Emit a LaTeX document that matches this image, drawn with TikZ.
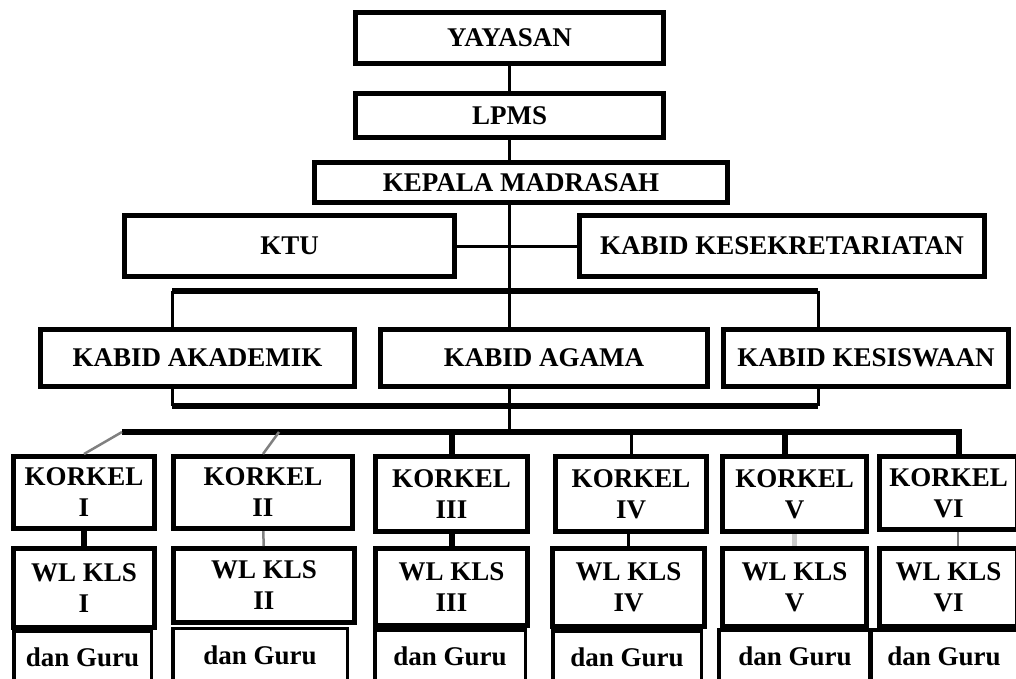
\documentclass[tikz,border=0pt]{standalone}
\usepackage{fontspec}
\setmainfont{Liberation Serif}
\begin{document}
\begin{tikzpicture}[x=1pt,y=-1pt,
  lbl/.style={font=\bfseries\fontsize{27}{31}\selectfont},
  orgbox/.style={draw, line width=5pt, inner sep=0pt, align=center, lbl},
  gurubox/.style={draw, line width=3.5pt, inner sep=0pt, align=center, lbl},
  link/.style={line width=3pt},
  thicklink/.style={line width=5.5pt},
  faint/.style={line width=2.5pt, gray}]
\useasboundingbox (0,0) rectangle (1016,678);
\clip (0,0) rectangle (1016,678);

% top of the chart
\node[orgbox, minimum width=308, minimum height=51] (yay) at (509.5,38) {YAYASAN};
\node[orgbox, minimum width=308, minimum height=44] (lpms) at (509.5,115.5) {LPMS};
\node[orgbox, minimum width=413, minimum height=40] (kep) at (521,182.5) {KEPALA MADRASAH};
\node[orgbox, minimum width=330, minimum height=61] (ktu) at (289.5,246) {KTU};
\node[orgbox, minimum width=405, minimum height=61] (kes) at (782,246) {KABID KESEKRETARIATAN};

% heads of division
\node[orgbox, minimum width=314, minimum height=57] (akad) at (197.5,358) {KABID AKADEMIK};
\node[orgbox, minimum width=327, minimum height=57] (agama) at (544,358) {KABID AGAMA};
\node[orgbox, minimum width=285, minimum height=57] (siswa) at (866,358) {KABID KESISWAAN};

% grade coordinators
\node[orgbox, minimum width=141, minimum height=72] (k1) at (84,492.5) {KORKEL\\I};
\node[orgbox, minimum width=179, minimum height=72] (k2) at (263,492.5) {KORKEL\\II};
\node[orgbox, minimum width=152, minimum height=75] (k3) at (451.5,494) {KORKEL\\III};
\node[orgbox, minimum width=151, minimum height=75] (k4) at (631,494) {KORKEL\\IV};
\node[orgbox, minimum width=144, minimum height=75] (k5) at (794.5,494) {KORKEL\\V};
\node[orgbox, minimum width=138, minimum height=73] (k6) at (948.5,493) {KORKEL\\VI};

% class teachers
\node[orgbox, minimum width=141, minimum height=79] (w1) at (84,588) {WL KLS\\I};
\node[orgbox, minimum width=181, minimum height=74] (w2) at (264,585.5) {WL KLS\\II};
\node[orgbox, minimum width=152, minimum height=77] (w3) at (451.5,587) {WL KLS\\III};
\node[orgbox, minimum width=152, minimum height=78] (w4) at (628.5,587.5) {WL KLS\\IV};
\node[orgbox, minimum width=144, minimum height=78] (w5) at (794.5,587.5) {WL KLS\\V};
\node[orgbox, minimum width=138, minimum height=78] (w6) at (948.5,587.5) {WL KLS\\VI};

% teachers
\node[gurubox, minimum width=137.5, minimum height=51] (g1) at (82.5,657) {dan Guru};
\node[gurubox, minimum width=174.5, minimum height=54] (g2) at (260,655.5) {dan Guru};
\node[gurubox, minimum width=150.5, minimum height=53] (g3) at (450,656.5) {dan Guru};
\node[gurubox, minimum width=148.5, minimum height=52] (g4) at (627,657) {dan Guru};
\node[gurubox, minimum width=152.5, minimum height=53] (g5) at (795,656.5) {dan Guru};
\node[gurubox, minimum width=148.5, minimum height=53] (g6) at (944,656.5) {dan Guru};

% guide points
\coordinate (tx) at (509,0);
\coordinate (tl) at (172,291);
\coordinate (tr) at (818,291);
\coordinate (bl) at (172,406);
\coordinate (br) at (818,406);
\coordinate (busl) at (122,432);
\coordinate (busr) at (962,432);
\coordinate (busm) at (509,432);
\coordinate (d2) at (279,432);

% connectors
\draw[link] (yay) -- (lpms);
\draw[link] (lpms.south) -- (lpms.south |- kep.north);
\draw[link] (tx |- kep.south) -- (tx |- agama.north);
\draw[link] (ktu.east) -- (kes.west);
\draw[thicklink] (tl) -- (tr);
\draw[link] (tl) -- (tl |- akad.north);
\draw[link] (tr) -- (tr |- siswa.north);
\draw[link] (tl |- akad.south) -- (bl);
\draw[link] (tr |- siswa.south) -- (br);
\draw[thicklink] (bl) -- (br);
\draw[link] (tx |- agama.south) -- (busm);
\draw[thicklink] (busl) -- (busr);

\draw[faint] (busl) -- (k1.north);
\draw[faint] (d2) -- (k2.north);
\draw[line width=6pt] (busl -| k3.north) -- (k3.north);
\draw[link] (busl -| k4.north) -- (k4.north);
\draw[thicklink] (785,432) -- (785,454);
\draw[line width=6pt] (959,432) -- (959,454);

\draw[line width=6pt] (k1) -- (w1);
\draw[faint] (k2) -- (w2);
\draw[line width=6pt] (k3) -- (w3);
\draw[link] (628.5,534) -- (w4.north);
\draw[thicklink, gray!40] (k5) -- (w5);
\draw[faint] (958,532) -- (958,546);
\end{tikzpicture}
\end{document}
